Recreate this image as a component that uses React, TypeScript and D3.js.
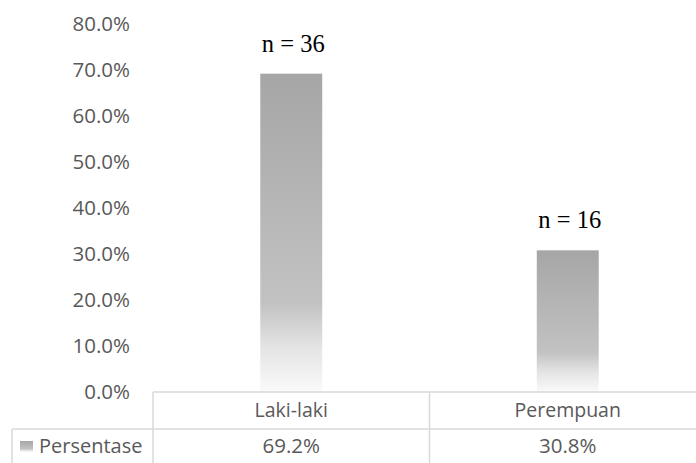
import React from "react";
import * as d3 from "d3";

// Gender distribution of respondents
const categories = ["Laki-laki", "Perempuan"];
const percentages = [69.2, 30.8];
const counts = [36, 16];
const seriesName = "Persentase";
const yTicks = [0, 10, 20, 30, 40, 50, 60, 70, 80];

const W = 696;
const H = 463;

const textColor = "#595959";
const lineColor = "#d9d9d9";
const sansFont = "'Open Sans', 'Noto Sans', sans-serif";
const serifFont = "'Liberation Serif', 'DejaVu Serif', serif";

export default function App() {
  const plotLeft = 153;
  const plotRight = 706;
  const y = d3.scaleLinear().domain([0, 80]).range([392, 24]);
  const x = d3
    .scaleBand<string>()
    .domain(categories)
    .range([plotLeft, plotRight])
    .paddingInner(0)
    .paddingOuter(0);

  const band = x.bandwidth();
  const barW = band * 0.224;
  const fmt = (v: number) => d3.format(".1f")(v) + "%";

  const row1Top = y(0);
  const row2Top = 429;
  const bottom = H + 5;

  return (
    <svg
      width={W}
      height={H}
      viewBox={`0 0 ${W} ${H}`}
      style={{ position: "absolute", left: 0, top: 0, background: "#fff" }}
    >
      <defs>
        <linearGradient id="barFill" x1="0" y1="0" x2="0" y2="1">
          <stop offset="0" stopColor="#a6a6a6" />
          <stop offset="0.72" stopColor="#c2c2c2" />
          <stop offset="0.86" stopColor="#e4e4e4" />
          <stop offset="1" stopColor="#fafafa" />
        </linearGradient>
      </defs>

      {/* Y axis tick labels */}
      {yTicks.map((t) => (
        <text
          key={t}
          x={130}
          y={y(t)}
          dy="0.35em"
          textAnchor="end"
          fontFamily={sansFont}
          fontSize={20.5}
          fill={textColor}
        >
          {fmt(t)}
        </text>
      ))}

      {/* Bars */}
      {categories.map((c, i) => {
        const cx = (x(c) as number) + band / 2;
        const top = y(percentages[i]);
        return (
          <g key={c}>
            <rect
              x={cx - barW / 2}
              y={top}
              width={barW}
              height={y(0) - top}
              fill="url(#barFill)"
            />
            <text
              x={cx + 2}
              y={top - 22}
              textAnchor="middle"
              fontFamily={serifFont}
              fontSize={24.5}
              fill="#000"
            >
              {`n = ${counts[i]}`}
            </text>
          </g>
        );
      })}

      {/* Data table */}
      <g stroke={lineColor} strokeWidth={1.5} fill="none">
        <line x1={plotLeft} x2={W + 10} y1={row1Top} y2={row1Top} />
        <line x1={12} x2={W + 10} y1={row2Top} y2={row2Top} />
        <line x1={12} x2={12} y1={row2Top} y2={bottom} />
        {categories.map((c) => (
          <line
            key={c}
            x1={x(c) as number}
            x2={x(c) as number}
            y1={row1Top}
            y2={bottom}
          />
        ))}
      </g>

      {categories.map((c, i) => {
        const cx = (x(c) as number) + band / 2;
        return (
          <g key={c}>
            <text
              x={cx}
              y={(row1Top + row2Top) / 2}
              dy="0.35em"
              textAnchor="middle"
              fontFamily={sansFont}
              fontSize={19.5}
              fill={textColor}
            >
              {c}
            </text>
            <text
              x={cx}
              y={row2Top + 17}
              dy="0.35em"
              textAnchor="middle"
              fontFamily={sansFont}
              fontSize={20.5}
              fill={textColor}
            >
              {fmt(percentages[i])}
            </text>
          </g>
        );
      })}

      {/* Legend key in the table's series row */}
      <rect x={20} y={441} width={13} height={11} fill="url(#barFill)" />
      <text
        x={39}
        y={row2Top + 17}
        dy="0.35em"
        fontFamily={sansFont}
        fontSize={20}
        fill={textColor}
      >
        {seriesName}
      </text>
    </svg>
  );
}
